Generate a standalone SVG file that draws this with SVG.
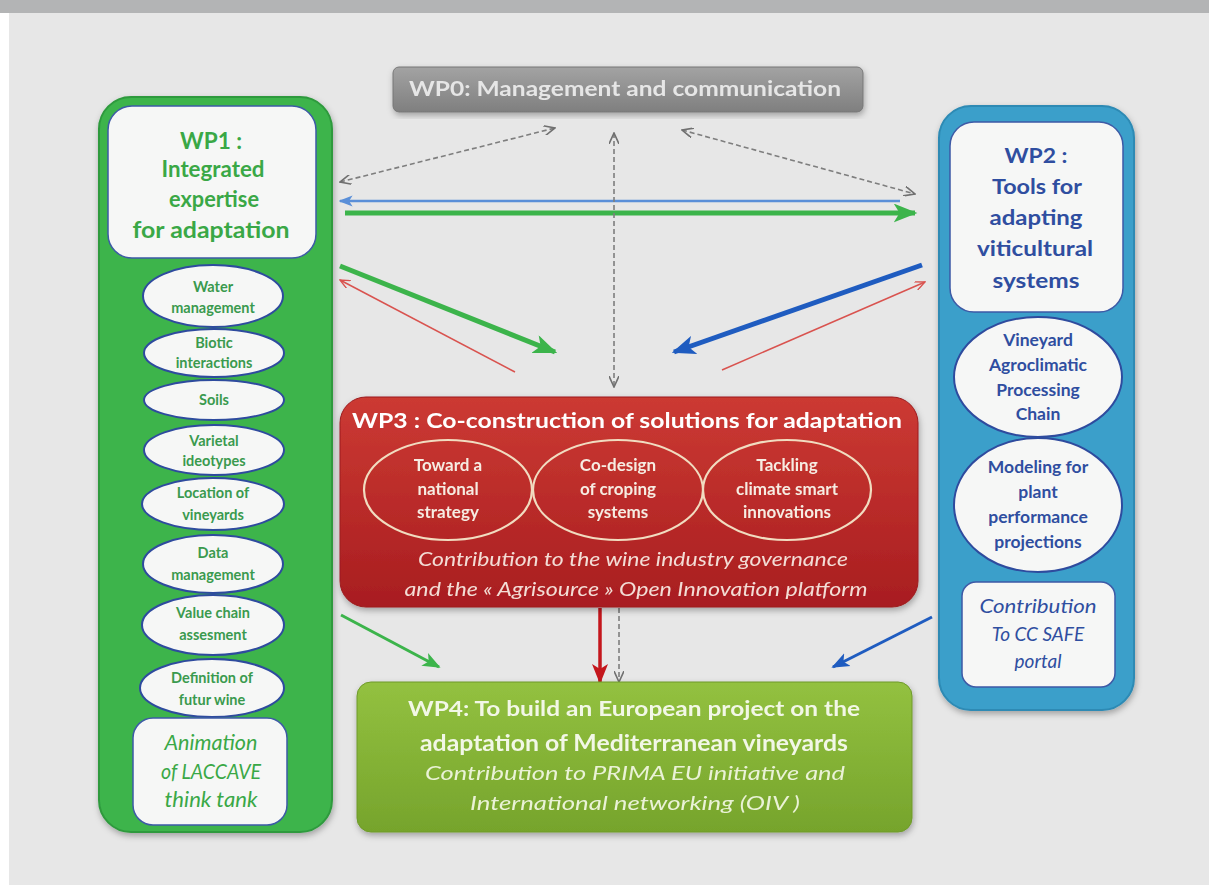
<svg xmlns="http://www.w3.org/2000/svg" width="1209" height="885" viewBox="0 0 1209 885">
<defs>
<style>
.t{font-family:Lato,"Open Sans","Liberation Sans",sans-serif;text-anchor:middle}
.b{font-weight:bold}
.i{font-style:italic}
.g1{fill:#3aa846}
.gl{fill:#3a9a4e;font-size:14.5px;font-weight:bold}
.bl{fill:#2f4ea0;font-size:17.5px;font-weight:bold}
.wp3e{fill:#f6ece2;font-size:17px;font-weight:bold}
.inner{fill:#f6f7f6;stroke:#3d5aa6;stroke-width:1.5}
.ell{fill:#f6f7f6;stroke:#2e4b9e;stroke-width:2}
.e3{fill:none;stroke:#f1dcc0;stroke-width:2.2}
.dash{fill:none;stroke:#7e7e7e;stroke-width:1.6;stroke-dasharray:5 3}
</style>
<linearGradient id="gWP0" x1="0" y1="0" x2="0" y2="1"><stop offset="0" stop-color="#a3a3a3"/><stop offset="1" stop-color="#7f7f7f"/></linearGradient>
<linearGradient id="gWP3" x1="0" y1="0" x2="0" y2="1"><stop offset="0" stop-color="#cc3a33"/><stop offset="1" stop-color="#a81d20"/></linearGradient>
<linearGradient id="gWP4" x1="0" y1="0" x2="0" y2="1"><stop offset="0" stop-color="#93c140"/><stop offset="1" stop-color="#76a42c"/></linearGradient>
<filter id="sh" x="-10%" y="-10%" width="120%" height="125%"><feDropShadow dx="1" dy="3" stdDeviation="3" flood-color="#000" flood-opacity="0.3"/></filter>
<marker id="aGreen" viewBox="0 0 20 16" refX="18" refY="8" markerWidth="24" markerHeight="19" markerUnits="userSpaceOnUse" orient="auto"><path d="M0,0 L20,8 L0,16 L5,8 z" fill="#3cb44b"/></marker>
<marker id="aGreenS" viewBox="0 0 20 16" refX="18" refY="8" markerWidth="18" markerHeight="15" markerUnits="userSpaceOnUse" orient="auto"><path d="M0,0 L20,8 L0,16 L5,8 z" fill="#3cb44b"/></marker>
<marker id="aBlue" viewBox="0 0 20 16" refX="18" refY="8" markerWidth="24" markerHeight="19" markerUnits="userSpaceOnUse" orient="auto"><path d="M0,0 L20,8 L0,16 L5,8 z" fill="#1f5cc0"/></marker>
<marker id="aBlueS" viewBox="0 0 20 16" refX="18" refY="8" markerWidth="18" markerHeight="15" markerUnits="userSpaceOnUse" orient="auto"><path d="M0,0 L20,8 L0,16 L5,8 z" fill="#1f5cc0"/></marker>
<marker id="aLBlue" viewBox="0 0 20 16" refX="18" refY="8" markerWidth="14" markerHeight="12" markerUnits="userSpaceOnUse" orient="auto-start-reverse"><path d="M0,0 L20,8 L0,16 L5,8 z" fill="#5a8fd8"/></marker>
<marker id="aRed" viewBox="0 0 20 16" refX="18" refY="8" markerWidth="20" markerHeight="16" markerUnits="userSpaceOnUse" orient="auto"><path d="M0,0 L20,8 L0,16 L5,8 z" fill="#c4161c"/></marker>
<marker id="aRedT" viewBox="0 0 12 10" refX="11" refY="5" markerWidth="11" markerHeight="9" markerUnits="userSpaceOnUse" orient="auto"><path d="M0,0 L11,5 L0,10" fill="none" stroke="#d9534f" stroke-width="1.5"/></marker>
<marker id="aGray" viewBox="0 0 12 10" refX="11" refY="5" markerWidth="12" markerHeight="10" markerUnits="userSpaceOnUse" orient="auto-start-reverse"><path d="M0,0 L11,5 L0,10" fill="none" stroke="#707070" stroke-width="1.6"/></marker>
</defs>

<rect x="0" y="0" width="1209" height="885" fill="#ffffff"/>
<rect x="9" y="0" width="1200" height="885" fill="#e7e7e7"/>
<rect x="0" y="0" width="1209" height="13" fill="#b3b4b5"/>

<g id="connectors">
  <line x1="345" y1="213" x2="915" y2="213" stroke="#3cb44b" stroke-width="5" marker-end="url(#aGreen)"/>
  <line x1="900" y1="201" x2="340" y2="201" stroke="#5a8fd8" stroke-width="2.5" marker-end="url(#aLBlue)"/>
  <line x1="340" y1="182" x2="555" y2="128" class="dash" marker-start="url(#aGray)" marker-end="url(#aGray)"/>
  <line x1="682" y1="130" x2="915" y2="194" class="dash" marker-start="url(#aGray)" marker-end="url(#aGray)"/>
  <line x1="614" y1="133" x2="614" y2="387" class="dash" marker-start="url(#aGray)" marker-end="url(#aGray)"/>
  <line x1="340" y1="266" x2="555" y2="352" stroke="#3cb44b" stroke-width="5" marker-end="url(#aGreen)"/>
  <line x1="515" y1="372" x2="340" y2="280" stroke="#d9534f" stroke-width="1.5" marker-end="url(#aRedT)"/>
  <line x1="922" y1="265" x2="674" y2="352" stroke="#1f5cc0" stroke-width="5" marker-end="url(#aBlue)"/>
  <line x1="722" y1="370" x2="925" y2="282" stroke="#d9534f" stroke-width="1.5" marker-end="url(#aRedT)"/>
  <line x1="341" y1="615" x2="439" y2="667" stroke="#3cb44b" stroke-width="3" marker-end="url(#aGreenS)"/>
  <line x1="932" y1="617" x2="833" y2="667" stroke="#1f5cc0" stroke-width="3" marker-end="url(#aBlueS)"/>
  <line x1="600" y1="608" x2="600" y2="682" stroke="#c4161c" stroke-width="3.5" marker-end="url(#aRed)"/>
  <line x1="619" y1="608" x2="619" y2="682" class="dash" marker-end="url(#aGray)"/>
</g>

<g id="wp0" filter="url(#sh)">
  <rect x="393" y="67" width="470" height="45" rx="6" fill="url(#gWP0)" stroke="#777" stroke-width="1"/>
  <text x="625" y="96" class="t b" font-size="21" fill="#e6e6e6" textLength="432" lengthAdjust="spacingAndGlyphs">WP0: Management and communication</text>
</g>

<g id="wp1">
  <rect x="99" y="97" width="233" height="735" rx="32" fill="#3cb44b" stroke="#2f9a3e" stroke-width="2" filter="url(#sh)"/>
  <rect x="108" y="106" width="208" height="152" rx="24" class="inner"/>
  <text x="211" y="149" class="t b g1" font-size="22" textLength="62" lengthAdjust="spacingAndGlyphs">WP1 :</text>
  <text x="213" y="177" class="t b g1" font-size="22" textLength="103" lengthAdjust="spacingAndGlyphs">Integrated</text>
  <text x="214" y="207" class="t b g1" font-size="22" textLength="90" lengthAdjust="spacingAndGlyphs">expertise</text>
  <text x="211" y="238" class="t b g1" font-size="22" textLength="157" lengthAdjust="spacingAndGlyphs">for adaptation</text>
  <g id="wp1-water"><ellipse cx="213" cy="296" rx="70" ry="31" class="ell"/><text x="213" y="292" class="t gl">Water</text><text x="213" y="313" class="t gl">management</text></g>
  <g id="wp1-biotic"><ellipse cx="214" cy="353" rx="70" ry="24" class="ell"/><text x="214" y="348" class="t gl">Biotic</text><text x="214" y="368" class="t gl">interactions</text></g>
  <g id="wp1-soils"><ellipse cx="214" cy="400" rx="70" ry="20" class="ell"/><text x="214" y="405" class="t gl">Soils</text></g>
  <g id="wp1-varietal"><ellipse cx="214" cy="450" rx="70" ry="25" class="ell"/><text x="214" y="446" class="t gl">Varietal</text><text x="214" y="466" class="t gl">ideotypes</text></g>
  <g id="wp1-location"><ellipse cx="213" cy="504" rx="71" ry="26" class="ell"/><text x="213" y="498" class="t gl">Location of</text><text x="213" y="520" class="t gl">vineyards</text></g>
  <g id="wp1-data"><ellipse cx="213" cy="564" rx="70" ry="29" class="ell"/><text x="213" y="558" class="t gl">Data</text><text x="213" y="580" class="t gl">management</text></g>
  <g id="wp1-value"><ellipse cx="213" cy="625" rx="71" ry="30" class="ell"/><text x="213" y="618" class="t gl">Value chain</text><text x="213" y="640" class="t gl">assesment</text></g>
  <g id="wp1-def"><ellipse cx="212" cy="688" rx="72" ry="29" class="ell"/><text x="212" y="683" class="t gl">Definition of</text><text x="212" y="705" class="t gl">futur wine</text></g>
  <rect x="133" y="718" width="154" height="107" rx="20" class="inner"/>
  <text x="211" y="750" class="t i g1" font-size="21" textLength="93" lengthAdjust="spacingAndGlyphs">Animation</text>
  <text x="211" y="779" class="t i g1" font-size="21" textLength="100" lengthAdjust="spacingAndGlyphs">of LACCAVE</text>
  <text x="211" y="807" class="t i g1" font-size="21" textLength="93" lengthAdjust="spacingAndGlyphs">think tank</text>
</g>

<g id="wp2">
  <rect x="939" y="106" width="195" height="604" rx="32" fill="#3a9fca" stroke="#2d8ab4" stroke-width="2" filter="url(#sh)"/>
  <rect x="950" y="122" width="173" height="190" rx="24" class="inner"/>
  <text x="1036" y="163" class="t b" font-size="21" fill="#2f4ea0" textLength="63" lengthAdjust="spacingAndGlyphs">WP2 :</text>
  <text x="1037" y="194" class="t b" font-size="21" fill="#2f4ea0" textLength="90" lengthAdjust="spacingAndGlyphs">Tools for</text>
  <text x="1036" y="225" class="t b" font-size="21" fill="#2f4ea0" textLength="93" lengthAdjust="spacingAndGlyphs">adapting</text>
  <text x="1035" y="256" class="t b" font-size="21" fill="#2f4ea0" textLength="116" lengthAdjust="spacingAndGlyphs">viticultural</text>
  <text x="1036" y="288" class="t b" font-size="21" fill="#2f4ea0" textLength="87" lengthAdjust="spacingAndGlyphs">systems</text>
  <g id="wp2-vineyard"><ellipse cx="1038" cy="377" rx="84" ry="60" class="ell"/>
    <text x="1038" y="346" class="t bl">Vineyard</text><text x="1038" y="371" class="t bl">Agroclimatic</text><text x="1038" y="396" class="t bl">Processing</text><text x="1038" y="420" class="t bl">Chain</text></g>
  <g id="wp2-modeling"><ellipse cx="1038" cy="505" rx="84" ry="67" class="ell"/>
    <text x="1038" y="473" class="t bl">Modeling for</text><text x="1038" y="498" class="t bl">plant</text><text x="1038" y="523" class="t bl">performance</text><text x="1038" y="548" class="t bl">projections</text></g>
  <rect x="962" y="582" width="153" height="105" rx="14" class="inner"/>
  <text x="1038" y="613" class="t i" font-size="19" fill="#2f4ea0" textLength="117" lengthAdjust="spacingAndGlyphs">Contribution</text>
  <text x="1038" y="641" class="t i" font-size="19" fill="#2f4ea0">To CC SAFE</text>
  <text x="1038" y="668" class="t i" font-size="19" fill="#2f4ea0">portal</text>
</g>

<g id="wp3" filter="url(#sh)">
  <rect x="340" y="397" width="578" height="210" rx="26" fill="url(#gWP3)" stroke="#9c1c1f" stroke-width="1"/>
  <text x="627" y="428" class="t b" font-size="21" fill="#ffffff" textLength="550" lengthAdjust="spacingAndGlyphs">WP3 : Co-construction of solutions for adaptation</text>
  <ellipse cx="448" cy="490" rx="84" ry="50" class="e3"/>
  <ellipse cx="618" cy="490" rx="85" ry="50" class="e3"/>
  <ellipse cx="787" cy="490" rx="84" ry="50" class="e3"/>
  <text x="448" y="471" class="t wp3e">Toward a</text><text x="448" y="495" class="t wp3e">national</text><text x="448" y="518" class="t wp3e">strategy</text>
  <text x="618" y="471" class="t wp3e">Co-design</text><text x="618" y="495" class="t wp3e">of croping</text><text x="618" y="518" class="t wp3e">systems</text>
  <text x="787" y="471" class="t wp3e">Tackling</text><text x="787" y="495" class="t wp3e">climate smart</text><text x="787" y="518" class="t wp3e">innovations</text>
  <text x="633" y="566" class="t i" font-size="19" fill="#f3ddd6" textLength="430" lengthAdjust="spacingAndGlyphs">Contribution to the wine industry governance</text>
  <text x="636" y="596" class="t i" font-size="19" fill="#f3ddd6" textLength="463" lengthAdjust="spacingAndGlyphs">and the « Agrisource » Open Innovation platform</text>
</g>

<g id="wp4" filter="url(#sh)">
  <rect x="357" y="682" width="555" height="150" rx="14" fill="url(#gWP4)" stroke="#6e9a2a" stroke-width="1"/>
  <text x="634" y="716" class="t b" font-size="20" fill="#f2f7e6" textLength="452" lengthAdjust="spacingAndGlyphs">WP4: To build an European project on the</text>
  <text x="634" y="751" class="t b" font-size="23" fill="#f2f7e6" textLength="428" lengthAdjust="spacingAndGlyphs">adaptation of Mediterranean vineyards</text>
  <text x="635" y="780" class="t i" font-size="20" fill="#eaf2d6" textLength="420" lengthAdjust="spacingAndGlyphs">Contribution to PRIMA EU initiative and</text>
  <text x="635" y="810" class="t i" font-size="20" fill="#eaf2d6" textLength="330" lengthAdjust="spacingAndGlyphs">International networking (OIV )</text>
</g>
</svg>
